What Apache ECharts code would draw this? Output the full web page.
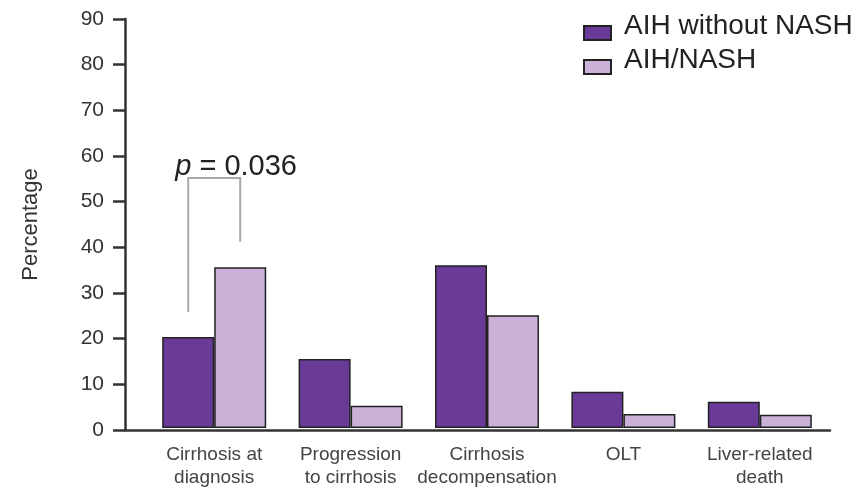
<!DOCTYPE html>
<html><head><meta charset="utf-8">
<script src="https://cdn.jsdelivr.net/npm/echarts@6/dist/echarts.min.js"></script>
<style>html,body{margin:0;padding:0;background:#fff}#c{width:863px;height:489px}</style>
</head><body><div id="c"></div>
<script>
const categories = ['Cirrhosis at\ndiagnosis', 'Progression\nto cirrhosis', 'Cirrhosis\ndecompensation', 'OLT', 'Liver-related\ndeath'];
const seriesNames = ['AIH without NASH', 'AIH/NASH'];
const aihWithoutNash = [20, 15.2, 35.8, 8, 5.8];
const aihNash = [35.4, 4.9, 24.8, 3.1, 2.9];
const yTicks = [0, 90, 10];
// significance bracket: [category index, left foot, top, right foot]
const bracket = [[0, 25.5, 55, 41]];
const pLabel = '0.036';

const BAR_W = 52;
const chart = echarts.init(document.getElementById('c'));
const font = '"Liberation Sans", Arial, sans-serif';
chart.setOption({
  animation: false,
  textStyle: { fontFamily: font },
  legend: {
    orient: 'vertical', left: 578, top: 6, itemWidth: 27, itemHeight: 29, itemGap: 3,
    icon: 'path://M0,0 M0,14 L27,14 L27,28 L0,28 Z M27,29',
    symbolKeepAspect: true,
    textStyle: { fontSize: 28, lineHeight: 29, color: '#222', fontFamily: font, padding: [0, 0, 0, 8] },
    data: seriesNames
  },
  grid: [
    { left: 146, right: 35, top: 19, bottom: 59 },
    { left: 125, right: 33, top: 19, bottom: 59 }
  ],
  xAxis: [
    { type: 'category', gridIndex: 0, data: categories,
      axisLine: { show: false }, axisTick: { show: false },
      axisLabel: { color: '#444', fontSize: 19, lineHeight: 23, margin: 15, interval: 0 } },
    { type: 'value', gridIndex: 1, min: 0, max: 1, show: true,
      axisLine: { show: true, lineStyle: { color: '#333', width: 2.5 } },
      axisTick: { show: false }, axisLabel: { show: false }, splitLine: { show: false } }
  ],
  yAxis: [
    { type: 'value', gridIndex: 0, min: yTicks[0], max: yTicks[1], interval: yTicks[2], show: false, splitLine: { show: false } },
    { type: 'value', gridIndex: 1, min: yTicks[0], max: yTicks[1], interval: yTicks[2],
      name: 'Percentage', nameLocation: 'middle', nameGap: 83,
      nameTextStyle: { fontSize: 22, color: '#333' },
      axisLine: { show: true, lineStyle: { color: '#333', width: 2.5 } },
      axisTick: { show: true, length: 12, lineStyle: { color: '#333', width: 2.5 } },
      axisLabel: { fontSize: 21, color: '#333', margin: 21 },
      splitLine: { show: false } }
  ],
  series: [
    { name: seriesNames[0], type: 'bar', data: aihWithoutNash, barWidth: BAR_W, barGap: '0%',
      itemStyle: { color: '#6a3a98', borderColor: '#222', borderWidth: 1.5 } },
    { name: seriesNames[1], type: 'bar', data: aihNash, barWidth: BAR_W, barGap: '0%',
      itemStyle: { color: '#cbb0d8', borderColor: '#222', borderWidth: 1.5 } },
    { type: 'custom', data: bracket, silent: true, z: 5,
      renderItem: function (params, api) {
        const idx = api.value(0);
        const lf = api.coord([idx, api.value(1)]);
        const tp = api.coord([idx, api.value(2)]);
        const rf = api.coord([idx, api.value(3)]);
        const xl = tp[0] - BAR_W / 2, xr = tp[0] + BAR_W / 2;
        return { type: 'group', children: [
          { type: 'polyline', shape: { points: [[xl, lf[1]], [xl, tp[1]], [xr, tp[1]], [xr, rf[1]]] },
            style: { stroke: '#a8a8a8', lineWidth: 2, fill: null } },
          { type: 'text', style: { x: xl - 13, y: tp[1] - 11, text: '{i|p} = ' + pLabel,
              verticalAlign: 'middle', align: 'left', fill: '#222', font: '29px ' + font,
              rich: { i: { fontStyle: 'italic', fontSize: 29, fontFamily: font, fill: '#222' } } } }
        ] };
      }
    }
  ]
});
</script></body></html>
